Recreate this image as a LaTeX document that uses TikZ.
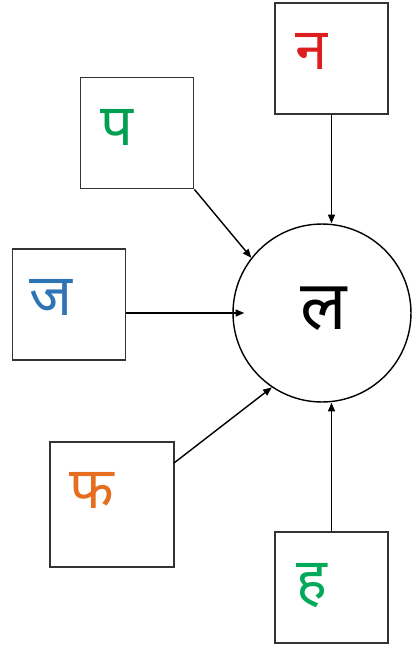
\documentclass[tikz,border=0pt]{standalone}
\usepackage{fontspec}
\usepackage{xcolor}
\usetikzlibrary{arrows.meta}
\newfontfamily\devfont[Script=Devanagari]{Noto Sans}
\definecolor{nared}{RGB}{220,30,30}
\definecolor{pagreen}{RGB}{0,160,80}
\definecolor{jablue}{RGB}{46,117,182}
\definecolor{phaorange}{RGB}{230,110,30}
\definecolor{hagreen}{RGB}{0,170,90}
\tikzset{
  letbox/.style={draw=black!80,line width=1pt,minimum width=2.26cm,minimum height=2.22cm,inner sep=0pt},
  letter/.style={font=\devfont\fontsize{33}{40}\selectfont,inner sep=0pt},
  feed/.style={-{Triangle[length=5pt,width=4pt]},line width=0.8pt}
}
\begin{document}
\begin{tikzpicture}[x=0.02cm,y=-0.02cm]
\useasboundingbox (0,0) rectangle (415,647);

\node[draw,circle,line width=0.8pt,minimum size=3.56cm] (l) at (322,313) {};
\node[font=\devfont\fontsize{39}{46}\selectfont,inner sep=0pt] (lt) at ([shift={(2,-4)}]l.center) {ल};

\node[letbox] (n) at (331.5,58.5) {};
\node[letter,text=nared] (nt) at ([shift={(-20,-7)}]n.center) {न};
\node[letbox] (p) at (137,133) {};
\node[letter,text=pagreen] (pt) at ([shift={(-20,-6)}]p.center) {प};
\node[letbox] (j) at (69,304.5) {};
\node[letter,text=jablue] (jt) at ([shift={(-18,-7)}]j.center) {ज};
\node[letbox,minimum width=2.48cm,minimum height=2.5cm] (f) at (112,504.5) {};
\node[letter,text=phaorange] (ft) at ([shift={(-20,-14)}]f.center) {फ};
\node[letbox] (h) at (331.5,587.5) {};
\node[letter,text=hagreen] (ht) at ([shift={(-20,-2)}]h.center) {ह};

\coordinate (fo) at (174,463);

\draw[feed] (n.south) -- (n.south |- l.north);
\draw[feed] (p.south east) -- (l.142);
\draw[feed,shorten >=-0.24cm] (j.east |- l.west) -- (l.west);
\draw[feed] (fo) -- (l.236);
\draw[feed] (h.north) -- (h.north |- l.south);
\end{tikzpicture}
\end{document}
